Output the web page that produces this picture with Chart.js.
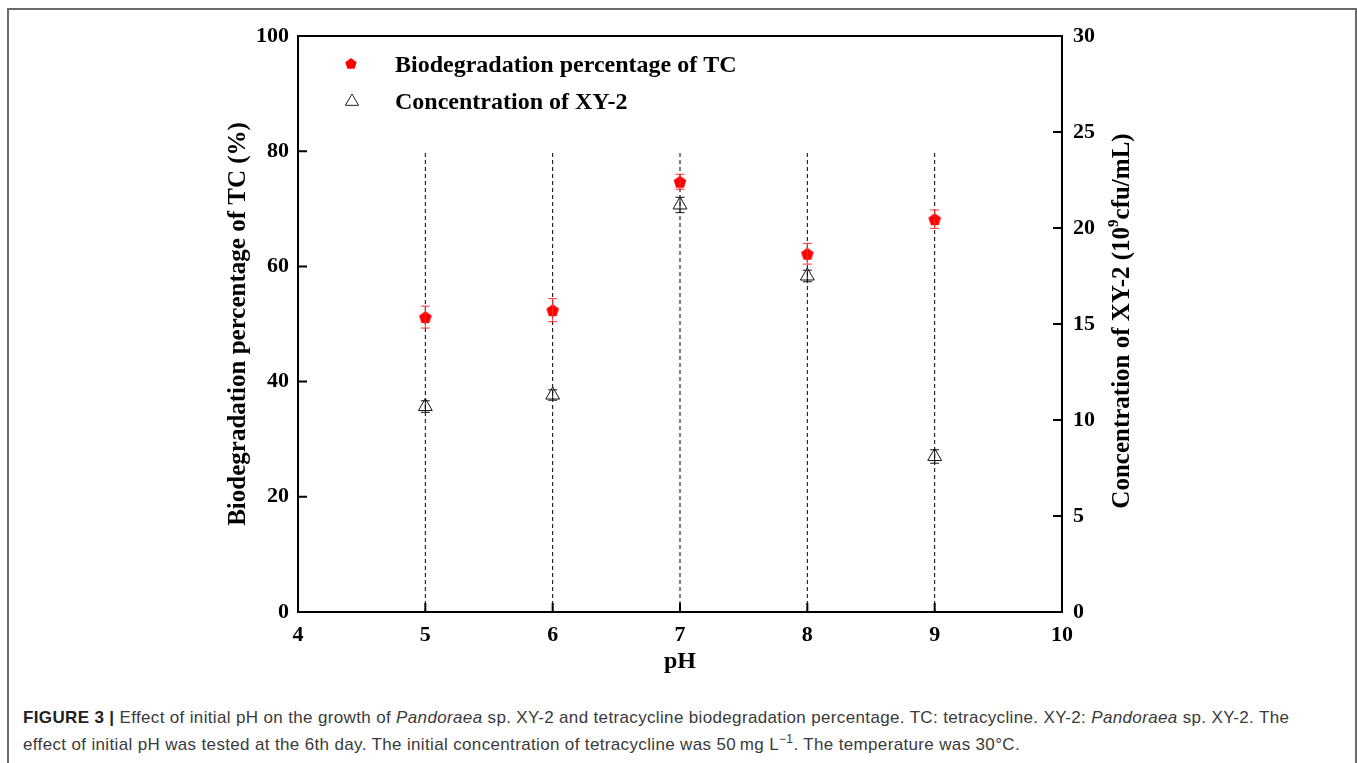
<!DOCTYPE html>
<html>
<head>
<meta charset="utf-8">
<script src="https://cdn.jsdelivr.net/npm/chart.js@4/dist/chart.umd.min.js"></script>
<style>
	body { margin: 0; background: #fff; width: 1357px; height: 763px; overflow: hidden; }
	#frame { position: absolute; left: 7px; top: 8px; width: 1346px; height: 800px; border: 2px solid #6a6a6a; border-bottom: none; }
	#holder { position: absolute; left: 0; top: 0; width: 1357px; height: 700px; }
	#caption { position: absolute; left: 23px; top: 704px; white-space: nowrap; font-family: "Liberation Sans", Arial, sans-serif; font-size: 17px; letter-spacing: 0.35px; line-height: 27px; color: #3a3a3a; }
	#caption b { color: #222; }
	#caption sup { font-size: 12px; line-height: 0; }
</style>
</head>
<body>
<div id="frame"></div>
<div id="holder"><canvas id="myChart"></canvas></div>
<div id="caption"><b>FIGURE 3 |</b> Effect of initial pH on the growth of <i>Pandoraea</i> sp. XY-2 and tetracycline biodegradation percentage. TC: tetracycline. XY-2: <i>Pandoraea</i> sp. XY-2. The<br>effect of initial pH was tested at the 6th day. The initial concentration of tetracycline was 50&#8201;mg L<sup>&minus;1</sup>. The temperature was 30&deg;C.</div>
<script>
// data
var phValues = [5, 6, 7, 8, 9];
var tcDegradation = [51.2, 52.4, 74.7, 62.2, 68.2];		// %
var tcError = [1.9, 2.0, 1.3, 1.8, 1.6];
var xy2Concentration = [10.7, 11.3, 21.2, 17.5, 8.1];	// 10^9 cfu/mL
var xy2Error = [0.3, 0.27, 0.4, 0.3, 0.35];
var dropLineTop = 80;
var xTicks = [4, 5, 6, 7, 8, 9, 10];
var yTicks = [0, 20, 40, 60, 80, 100];
var y2Ticks = [0, 5, 10, 15, 20, 25, 30];
var legendLabels = ['Biodegradation percentage of TC', 'Concentration of XY-2'];

var boldFont = '"Liberation Serif", "Times New Roman", serif';

function pentagonPath(ctx, cx, cy, r) {
	ctx.beginPath();
	for (let i = 0; i < 5; i++) {
		var a = -Math.PI / 2 + i * 2 * Math.PI / 5;
		var px = cx + r * Math.cos(a);
		var py = cy + r * Math.sin(a);
		if (i === 0) ctx.moveTo(px, py); else ctx.lineTo(px, py);
	}
	ctx.closePath();
};
function trianglePath(ctx, cx, cy, r) {
	ctx.beginPath();
	ctx.moveTo(cx, cy - r);
	ctx.lineTo(cx + r * 0.95, cy + r * 0.62);
	ctx.lineTo(cx - r * 0.95, cy + r * 0.62);
	ctx.closePath();
};

// pentagon marker as an image, chart.js has no pentagon style
var pent = document.createElement('canvas');
pent.width = 14; pent.height = 14;
var pctx = pent.getContext('2d');
pentagonPath(pctx, 7, 7.6, 6.6);
pctx.fillStyle = '#ff0000';
pctx.fill();

var dropData = [];
for (let i = 0; i < phValues.length; i++) {
	dropData.push({x: phValues[i], y: 0});
	dropData.push({x: phValues[i], y: dropLineTop});
	dropData.push({x: phValues[i], y: null});
}

var framePlugin = {
	id: 'frame',
	afterDatasetsDraw: function(chart) {
		var ctx = chart.ctx;
		var a = chart.chartArea;
		var sx = chart.scales.x, sy = chart.scales.y, sy2 = chart.scales.y2;

		// error bars
		ctx.save();
		ctx.lineWidth = 1;
		for (let i = 0; i < phValues.length; i++) {
			var px = sx.getPixelForValue(phValues[i]);
			var bars = [
				[sy, tcDegradation[i], tcError[i], '#ff3030'],
				[sy2, xy2Concentration[i], xy2Error[i], '#111']
			];
			for (let b of bars) {
				var t = b[0].getPixelForValue(b[1] + b[2]);
				var m = b[0].getPixelForValue(b[1] - b[2]);
				ctx.strokeStyle = b[3];
				ctx.beginPath();
				ctx.moveTo(px, t); ctx.lineTo(px, m);
				ctx.moveTo(px - 4.5, t); ctx.lineTo(px + 4.5, t);
				ctx.moveTo(px - 4.5, m); ctx.lineTo(px + 4.5, m);
				ctx.stroke();
			}
		}
		ctx.restore();

		// box and inward ticks
		ctx.save();
		ctx.strokeStyle = '#000';
		ctx.lineWidth = 2;
		ctx.strokeRect(a.left, a.top, a.right - a.left, a.bottom - a.top);
		ctx.beginPath();
		for (let v of yTicks) {
			var y = sy.getPixelForValue(v);
			ctx.moveTo(a.left, y); ctx.lineTo(a.left + 9, y);
		}
		for (let v of y2Ticks) {
			var y = sy2.getPixelForValue(v);
			ctx.moveTo(a.right, y); ctx.lineTo(a.right - 9, y);
		}
		for (let v of xTicks) {
			var x = sx.getPixelForValue(v);
			ctx.moveTo(x, a.bottom); ctx.lineTo(x, a.bottom - 9);
		}
		ctx.stroke();

		// legend
		ctx.font = 'bold 24px ' + boldFont;
		ctx.textBaseline = 'middle';
		pentagonPath(ctx, 351, 64, 6);
		ctx.fillStyle = '#ff0000';
		ctx.fill();
		ctx.fillStyle = '#000';
		ctx.fillText(legendLabels[0], 395, 66);
		trianglePath(ctx, 352, 101, 7);
		ctx.lineWidth = 1;
		ctx.strokeStyle = '#222';
		ctx.stroke();
		ctx.fillText(legendLabels[1], 395, 103);

		// right axis title, reads bottom to top
		ctx.translate(1123, 321);
		ctx.rotate(-Math.PI / 2);
		var p1 = 'Concentration of XY-2 (10', p2 = '9', p3 = 'cfu/mL)';
		ctx.font = 'bold 25px ' + boldFont;
		var w1 = ctx.measureText(p1).width, w3 = ctx.measureText(p3).width;
		ctx.font = 'bold 15px ' + boldFont;
		var w2 = ctx.measureText(p2).width;
		var x0 = -(w1 + w2 + w3) / 2;
		ctx.textAlign = 'left';
		ctx.font = 'bold 25px ' + boldFont;
		ctx.fillText(p1, x0, 0);
		ctx.font = 'bold 15px ' + boldFont;
		ctx.fillText(p2, x0 + w1, -9);
		ctx.font = 'bold 25px ' + boldFont;
		ctx.fillText(p3, x0 + w1 + w2, 0);
		ctx.restore();
	}
};

var ctx = document.getElementById('myChart');
var chart = new Chart(ctx, {
	type: 'scatter',
	data: {
		datasets: [{
			label: legendLabels[0],
			data: phValues.map((x, i) => ({x: x, y: tcDegradation[i]})),
			yAxisID: 'y',
			pointStyle: pent,
			pointRadius: 7,
			order: 1
		}, {
			label: legendLabels[1],
			data: phValues.map((x, i) => ({x: x, y: xy2Concentration[i]})),
			yAxisID: 'y2',
			pointStyle: 'triangle',
			pointRadius: 8,
			backgroundColor: 'rgba(255,255,255,0)',
			borderColor: '#111',
			borderWidth: 1,
			order: 1
		}, {
			label: 'drop',
			data: dropData,
			yAxisID: 'y',
			showLine: true,
			spanGaps: false,
			pointRadius: 0,
			borderColor: '#000',
			borderWidth: 1,
			borderDash: [4, 3],
			order: 3
		}]
	},
	options: {
		responsive: true,
		maintainAspectRatio: false,
		animation: false,
		layout: {padding: {left: 224, right: 0, top: 36, bottom: 24}},
		plugins: {legend: {display: false}, tooltip: {enabled: false}},
		scales: {
			x: {
				type: 'linear', min: 4, max: 10,
				afterFit: function(s) { s.height = 64; },
				afterBuildTicks: function(s) { s.ticks = xTicks.map(v => ({value: v})); },
				grid: {display: false, drawTicks: false},
				border: {display: false},
				ticks: {color: '#000', padding: 10, font: {family: boldFont, size: 22, weight: 'bold'}},
				title: {display: true, text: 'pH', color: '#000', padding: 0, font: {family: boldFont, size: 24, weight: 'bold'}}
			},
			y: {
				min: 0, max: 100, position: 'left',
				afterFit: function(s) { s.width = 74; },
				afterBuildTicks: function(s) { s.ticks = yTicks.map(v => ({value: v})); },
				grid: {display: false, drawTicks: false},
				border: {display: false},
				ticks: {color: '#000', padding: 9, font: {family: boldFont, size: 22, weight: 'bold'}},
				title: {display: true, text: 'Biodegradation percentage of TC (%)', color: '#000', padding: 0, font: {family: boldFont, size: 25, weight: 'bold'}}
			},
			y2: {
				min: 0, max: 30, position: 'right',
				afterFit: function(s) { s.width = 295; },
				afterBuildTicks: function(s) { s.ticks = y2Ticks.map(v => ({value: v})); },
				grid: {display: false, drawTicks: false},
				border: {display: false},
				ticks: {color: '#000', padding: 11, font: {family: boldFont, size: 22, weight: 'bold'}}
			}
		}
	},
	plugins: [framePlugin]
});
</script>
</body>
</html>
